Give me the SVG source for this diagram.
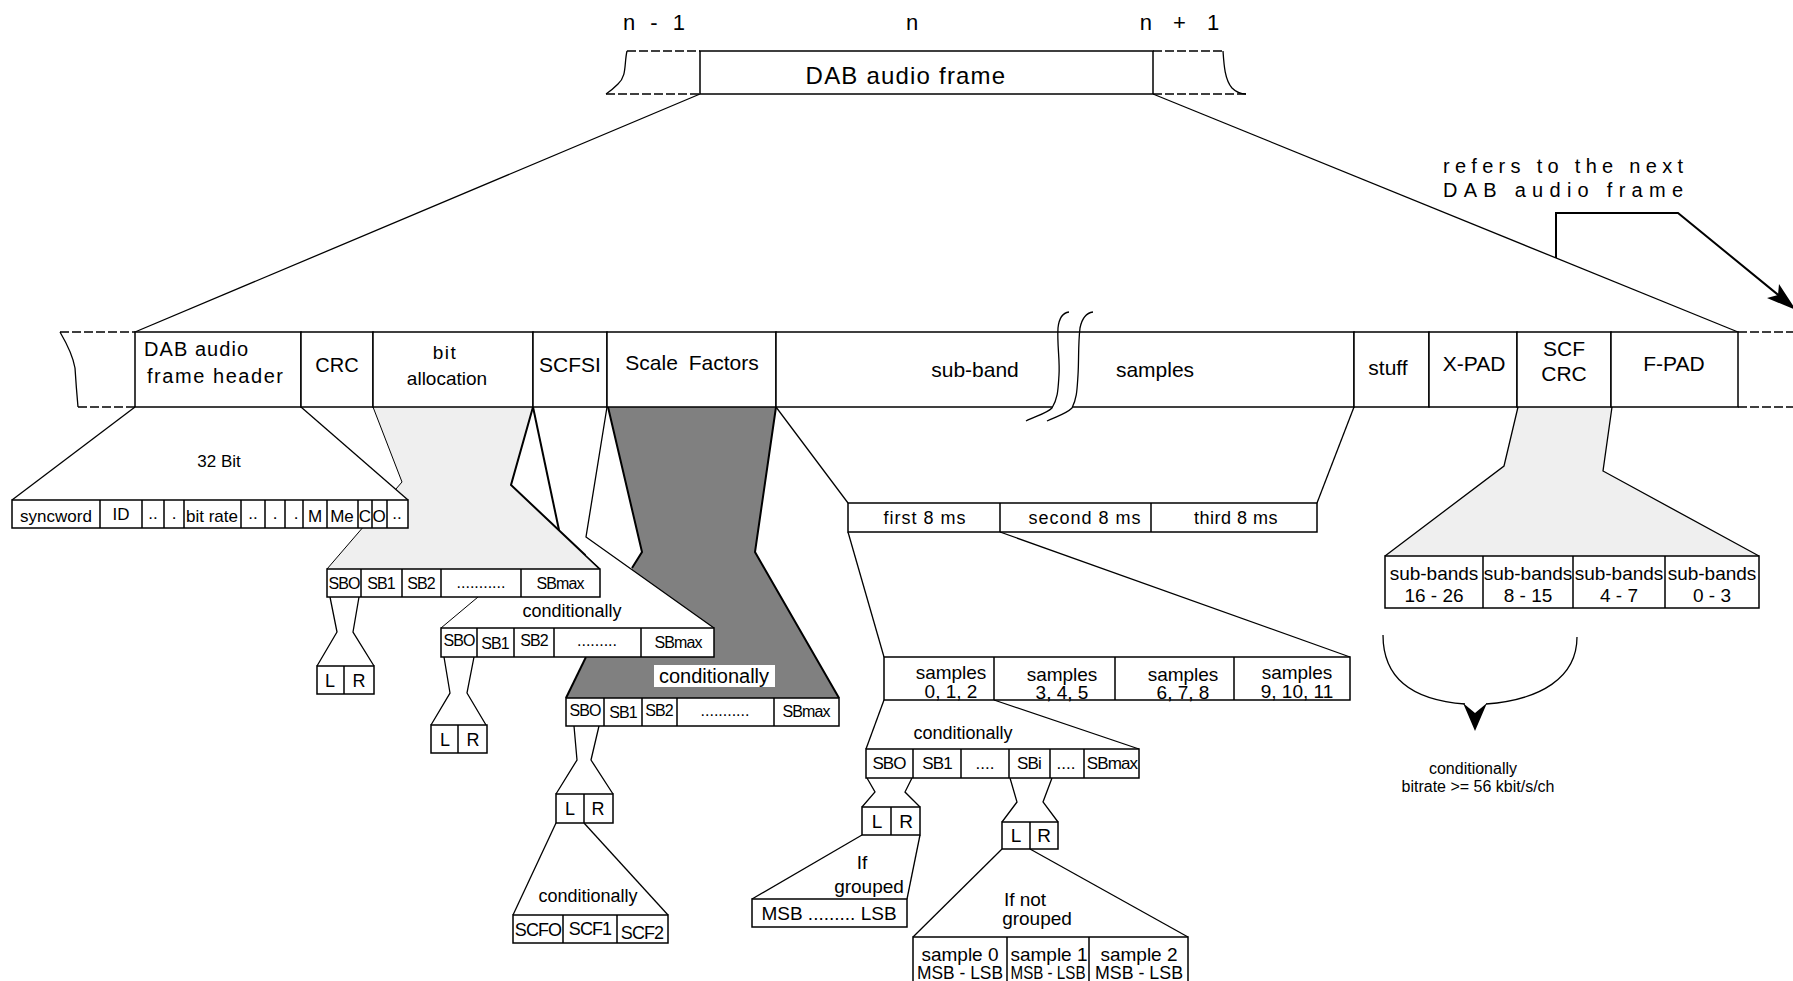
<svg xmlns="http://www.w3.org/2000/svg" width="1793" height="981" viewBox="0 0 1793 981">
<defs>
<style>
text{font-family:"Liberation Sans",Arial,Helvetica,sans-serif;fill:#000;text-anchor:middle}
.st{text-anchor:start}
.box{fill:#fff;stroke:#000;stroke-width:1.5}
.ln{fill:none;stroke:#000;stroke-width:1.3}
.thin{fill:none;stroke:#000;stroke-width:1}
.thk{fill:none;stroke:#000;stroke-width:2}
.dash{fill:none;stroke:#000;stroke-width:1.6;stroke-dasharray:9 3}
.lg{fill:#efefef;stroke:none}
.dg{fill:#808080;stroke:none}
.f24{font-size:24px}.f22{font-size:22px}.f21{font-size:21px}.f20{font-size:20px}.f19{font-size:19px}.f18{font-size:18px}.f17{font-size:17px}.f16{font-size:16px}
.nar{letter-spacing:-0.9px}
</style>
</defs>
<rect width="1793" height="981" fill="#fff"/>

<!-- index labels -->
<g id="labels-n">
<text class="f22" x="655" y="30" style="letter-spacing:2px;word-spacing:5px">n - 1</text>
<text class="f22" x="912" y="30">n</text>
<text class="f22" x="1181" y="30" style="letter-spacing:3px;word-spacing:9px">n + 1</text>
</g>

<g id="connectors">
<!-- top frame to main bar -->
<line class="ln" x1="700" y1="94" x2="135" y2="332"/>
<line class="ln" x1="1153" y1="94" x2="1738" y2="332"/>
<!-- bit allocation light region -->
<polygon class="lg" points="373,407 402,482 327,569 600,569 511,485 533,407"/>
<polyline class="thin" points="373,407 402,482 327,569"/>
<polyline class="thk" points="533,407 511,485 600,569"/>
<!-- header expansion -->
<polygon points="135,407 301,407 408,500 12,500" fill="#fff" stroke="none"/>
<line class="ln" x1="135" y1="407" x2="12" y2="500"/>
<line class="ln" x1="301" y1="407" x2="408" y2="500"/>
<!-- scale factor dark region -->
<polygon class="dg" points="608,407 642,552 632,568 566,698 839,698 755,552 776,407"/>
<polyline class="thk" points="608,407 642,552 632,568"/>
<polyline class="thk" points="776,407 755,552 839,698"/>
<line class="thk" x1="586" y1="657" x2="566" y2="698"/>
<!-- SCFSI expansion -->
<polygon points="586,537 714,628 441,628 478,597 600,597 600,568 586,555" fill="#fff" stroke="none"/>
<line class="thk" x1="533" y1="407" x2="559" y2="530"/>
<polyline class="ln" points="607,407 586,537 714,628"/>
<line class="thin" x1="478" y1="597" x2="441" y2="628"/>
<!-- sub-band samples expansion -->
<line class="ln" x1="776" y1="407" x2="848" y2="503"/>
<line class="ln" x1="1354" y1="407" x2="1317" y2="503"/>
<line class="ln" x1="848" y1="532" x2="884" y2="657"/>
<line class="ln" x1="1000" y1="532" x2="1350" y2="657"/>
<line class="ln" x1="884" y1="700" x2="866" y2="749"/>
<line class="ln" x1="994" y1="700" x2="1139" y2="749"/>
<polyline class="ln" points="867,778 875,792 862,807"/>
<polyline class="ln" points="912,778 905,792 920,807"/>
<polyline class="ln" points="1010,778 1017,802 1002,822"/>
<polyline class="ln" points="1052,778 1043,802 1058,822"/>
<line class="ln" x1="862" y1="835" x2="752" y2="899"/>
<line class="ln" x1="920" y1="835" x2="907" y2="899"/>
<line class="ln" x1="1002" y1="849" x2="913" y2="937"/>
<line class="ln" x1="1030" y1="849" x2="1188" y2="937"/>
<!-- SB table hourglasses -->
<polyline class="ln" points="330,597 337,632 317,666"/>
<polyline class="ln" points="359,597 353,632 374,666"/>
<polyline class="ln" points="444,657 450,693 431,725"/>
<polyline class="ln" points="474,657 467,693 486,725"/>
<polyline class="ln" points="574,726 577,760 556,794"/>
<polyline class="ln" points="599,726 591,760 613,794"/>
<line class="ln" x1="556" y1="823" x2="513" y2="915"/>
<line class="ln" x1="584" y1="823" x2="668" y2="915"/>
<!-- SCF CRC expansion -->
<polygon class="lg" points="1518,407 1504,466 1385,556 1759,556 1603,471 1612,407"/>
<polyline class="ln" points="1518,407 1504,466 1385,556"/>
<polyline class="ln" points="1612,407 1603,471 1759,556"/>
<!-- refers-to arrow -->
<polyline class="thk" points="1556,258 1556,213 1678,213 1782,298"/>
<polygon points="1796,310 1767,298 1778,295 1779,284" fill="#000"/>
<!-- brace arrow -->
<path class="ln" d="M1383,635 C1383,676 1410,700 1465,704"/>
<path class="ln" d="M1577,637 C1577,678 1540,700 1486,704"/>
<polygon points="1463,703 1475,713 1487,703 1475,731" fill="#000"/>
</g>

<!-- top frame -->
<g id="top-frame">
<rect class="box" x="700" y="51" width="453" height="43"/>
<path class="dash" d="M627,51 H700 M606,94 H700 M1153,51 H1223 M1153,94 H1246"/>
<path class="ln" d="M627,51 C624,64 627,76 618,84 C613,89 609,92 606,94"/>
<path class="ln" d="M1223,51 C1224,66 1225,80 1232,88 C1236,92 1240,94 1246,94"/>
<text class="f24" x="906" y="84" style="letter-spacing:1.2px">DAB audio frame</text>
</g>

<!-- main bar -->
<g id="main-bar">
<path class="dash" d="M60,332 H135 M78,407 H135 M1738,332 H1793 M1738,407 H1793"/>
<path class="ln" d="M60,332 C67,344 73,356 75,368 C76,384 77,396 78,407"/>
<g id="cell-header"><rect class="box" x="135" y="332" width="166" height="75"/>
<text class="f20 st" x="144" y="356" textLength="104" lengthAdjust="spacing">DAB audio</text>
<text class="f20 st" x="147" y="383" textLength="136" lengthAdjust="spacing">frame header</text></g>
<g id="cell-crc"><rect class="box" x="301" y="332" width="72" height="75"/><text class="f20" x="337" y="372">CRC</text></g>
<g id="cell-bitalloc"><rect class="box" x="373" y="332" width="160" height="75"/>
<text class="f19" x="445" y="359" style="letter-spacing:1.5px">bit</text>
<text class="f19" x="447" y="385">allocation</text></g>
<g id="cell-scfsi"><rect class="box" x="533" y="332" width="74" height="75"/><text class="f21" x="570" y="372">SCFSI</text></g>
<g id="cell-scalefactors"><rect class="box" x="607" y="332" width="169" height="75"/><text class="f21" x="692" y="370" style="word-spacing:5px">Scale Factors</text></g>
<g id="cell-subband"><rect class="box" x="776" y="332" width="578" height="75"/>
<text class="f21" x="975" y="377">sub-band</text>
<text class="f21" x="1155" y="377">samples</text></g>
<g id="cell-stuff"><rect class="box" x="1354" y="332" width="75" height="75"/><text class="f21" x="1388" y="375">stuff</text></g>
<g id="cell-xpad"><rect class="box" x="1429" y="332" width="88" height="75"/><text class="f21" x="1474" y="371">X-PAD</text></g>
<g id="cell-scfcrc"><rect class="box" x="1517" y="332" width="94" height="75"/>
<text class="f21" x="1564" y="356">SCF</text><text class="f21" x="1564" y="381">CRC</text></g>
<g id="cell-fpad"><rect class="box" x="1611" y="332" width="127" height="75"/><text class="f21" x="1674" y="371">F-PAD</text></g>
<!-- break mark -->
<path d="M1069,312 C1062,313 1059,318 1058,328 C1057,345 1060,360 1059,375 C1058,390 1058,398 1052,408 C1046,414 1035,416 1026,421 L1047,421 C1057,416 1066,414 1072,408 C1077,398 1077,390 1078,375 C1079,360 1078,345 1080,328 C1082,318 1086,313 1093,312 Z" fill="#fff" stroke="none"/>
<line class="box" x1="1058" y1="332" x2="1080" y2="332"/>
<path class="ln" d="M1069,312 C1062,313 1059,318 1058,328 C1057,345 1060,360 1059,375 C1058,390 1058,398 1052,408 C1046,414 1035,416 1026,421"/>
<path class="ln" d="M1093,312 C1086,313 1082,318 1080,328 C1078,345 1079,360 1078,375 C1077,390 1077,398 1072,408 C1066,414 1057,416 1047,421"/>
</g>

<g id="note-next-frame">
<text class="f20 st" x="1443" y="173" textLength="240" lengthAdjust="spacing">refers to the next</text>
<text class="f20 st" x="1443" y="197" textLength="240" lengthAdjust="spacing">DAB audio frame</text>
</g>

<!-- header detail -->
<g id="header-fields">
<text class="f17" x="219" y="467">32 Bit</text>
<rect class="box" x="12" y="500" width="396" height="28"/>
<path class="box" d="M100,500V528 M142,500V528 M164,500V528 M184,500V528 M241,500V528 M265,500V528 M285,500V528 M303,500V528 M327,500V528 M358,500V528 M372,500V528 M387,500V528"/>
<text class="f17" x="56" y="522">syncword</text>
<text class="f17" x="121" y="520">ID</text>
<text class="f17" x="153" y="519">..</text>
<text class="f17" x="174" y="519">.</text>
<text class="f17 st" x="186" y="522">bit rate</text>
<text class="f17" x="253" y="519">..</text>
<text class="f17" x="275" y="519">.</text>
<text class="f17" x="296" y="519">.</text>
<text class="f17" x="315" y="522">M</text>
<text class="f17" x="342" y="522">Me</text>
<text class="f17" x="365" y="522">C</text>
<text class="f17" x="379" y="522">O</text>
<text class="f17" x="397" y="519">..</text>
</g>

<!-- bit allocation table -->
<g id="sb-table-1">
<rect class="box" x="327" y="569" width="273" height="28"/>
<path class="box" d="M361,569V597 M402,569V597 M441,569V597 M521,569V597"/>
<text class="f16 nar" x="344" y="589">SBO</text>
<text class="f16 nar" x="381" y="589">SB1</text>
<text class="f16 nar" x="421" y="589">SB2</text>
<text class="f16" x="481" y="588">...........</text>
<text class="f16 nar" x="560" y="589">SBmax</text>
</g>
<g id="lr-1">
<rect class="box" x="317" y="666" width="57" height="28"/>
<line class="box" x1="344" y1="666" x2="344" y2="694"/>
<text class="f18" x="330" y="687">L</text><text class="f18" x="359" y="687">R</text>
</g>

<!-- SCFSI table -->
<text class="f18" x="572" y="617">conditionally</text>
<g id="sb-table-2">
<rect class="box" x="441" y="628" width="273" height="29"/>
<path class="box" d="M477,628V657 M514,628V657 M554,628V657 M641,628V657"/>
<text class="f16 nar" x="459" y="646">SBO</text>
<text class="f16 nar" x="495" y="649">SB1</text>
<text class="f16 nar" x="534" y="646">SB2</text>
<text class="f16" x="597" y="646">.........</text>
<text class="f16 nar" x="678" y="648">SBmax</text>
</g>
<g id="lr-2">
<rect class="box" x="431" y="725" width="56" height="28"/>
<line class="box" x1="458" y1="725" x2="458" y2="753"/>
<text class="f18" x="445" y="746">L</text><text class="f18" x="473" y="746">R</text>
</g>

<!-- scale factor table -->
<g id="label-dark">
<rect x="654" y="665" width="121" height="22" fill="#fff"/>
<text class="f20" x="714" y="683">conditionally</text>
</g>
<g id="sb-table-3">
<rect class="box" x="566" y="698" width="273" height="28"/>
<path class="box" d="M604,698V726 M642,698V726 M677,698V726 M774,698V726"/>
<text class="f16 nar" x="585" y="716">SBO</text>
<text class="f16 nar" x="623" y="718">SB1</text>
<text class="f16 nar" x="659" y="716">SB2</text>
<text class="f16" x="725" y="716">...........</text>
<text class="f16 nar" x="806" y="717">SBmax</text>
</g>
<g id="lr-3">
<rect class="box" x="556" y="794" width="57" height="29"/>
<line class="box" x1="584" y1="794" x2="584" y2="823"/>
<text class="f18" x="570" y="815">L</text><text class="f18" x="598" y="815">R</text>
</g>
<text class="f18" x="588" y="902">conditionally</text>
<g id="scf-table">
<rect class="box" x="513" y="915" width="155" height="28"/>
<path class="box" d="M563,915V943 M617,915V943"/>
<text class="f18 nar" x="538" y="936">SCFO</text>
<text class="f18 nar" x="590" y="935">SCF1</text>
<text class="f18 nar" x="642" y="939">SCF2</text>
</g>

<!-- samples detail -->
<g id="ms-table">
<rect class="box" x="848" y="503" width="469" height="29"/>
<path class="box" d="M1000,503V532 M1151,503V532"/>
<text class="f18" x="925" y="524" style="letter-spacing:1px">first 8 ms</text>
<text class="f18" x="1085" y="524" style="letter-spacing:1px">second 8 ms</text>
<text class="f18" x="1236" y="524" style="letter-spacing:0.5px">third 8 ms</text>
</g>
<g id="samples-table">
<rect class="box" x="884" y="657" width="466" height="43"/>
<path class="box" d="M994,657V700 M1115,657V700 M1234,657V700"/>
<text class="f19" x="951" y="679">samples</text><text class="f19" x="951" y="698">0, 1, 2</text>
<text class="f19" x="1062" y="681">samples</text><text class="f19" x="1062" y="699">3, 4, 5</text>
<text class="f19" x="1183" y="681">samples</text><text class="f19" x="1183" y="699">6, 7, 8</text>
<text class="f19" x="1297" y="679">samples</text><text class="f19" x="1297" y="698">9, 10, 11</text>
</g>
<text class="f18" x="963" y="739">conditionally</text>
<g id="sb-table-4">
<rect class="box" x="866" y="749" width="273" height="29"/>
<path class="box" d="M913,749V778 M961,749V778 M1009,749V778 M1050,749V778 M1084,749V778"/>
<text class="f17 nar" x="889" y="769">SBO</text>
<text class="f17 nar" x="937" y="769">SB1</text>
<text class="f17" x="985" y="769">....</text>
<text class="f17 nar" x="1029" y="769">SBi</text>
<text class="f17" x="1066" y="769">....</text>
<text class="f17 nar" x="1112" y="769">SBmax</text>
</g>
<g id="lr-4">
<rect class="box" x="862" y="807" width="58" height="28"/>
<line class="box" x1="891" y1="807" x2="891" y2="835"/>
<text class="f19" x="877" y="828">L</text><text class="f19" x="906" y="828">R</text>
</g>
<g id="lr-5">
<rect class="box" x="1002" y="822" width="56" height="27"/>
<line class="box" x1="1030" y1="822" x2="1030" y2="849"/>
<text class="f19" x="1016" y="842">L</text><text class="f19" x="1044" y="842">R</text>
</g>
<text class="f19" x="862" y="869">If</text>
<text class="f19" x="869" y="893">grouped</text>
<g id="msb-table">
<rect class="box" x="752" y="899" width="155" height="28"/>
<text class="f19" x="829" y="920">MSB .........  LSB</text>
</g>
<text class="f19" x="1025" y="906">If not</text>
<text class="f19" x="1037" y="925">grouped</text>
<g id="sample-table">
<rect class="box" x="913" y="937" width="275" height="50"/>
<path class="box" d="M1007,937V987 M1089,937V987"/>
<text class="f19" x="960" y="961">sample 0</text>
<text class="f18" x="960" y="979" textLength="86" lengthAdjust="spacingAndGlyphs">MSB - LSB</text>
<text class="f19" x="1049" y="961">sample 1</text>
<text class="f18" x="1048" y="979" textLength="75" lengthAdjust="spacingAndGlyphs">MSB - LSB</text>
<text class="f19" x="1139" y="961">sample 2</text>
<text class="f18" x="1139" y="979" textLength="88" lengthAdjust="spacingAndGlyphs">MSB - LSB</text>
</g>

<!-- SCF CRC detail -->
<g id="subbands-table">
<rect class="box" x="1385" y="556" width="374" height="52"/>
<path class="box" d="M1483,556V608 M1573,556V608 M1665,556V608"/>
<text class="f19" x="1434" y="580">sub-bands</text><text class="f19" x="1434" y="602">16 - 26</text>
<text class="f19" x="1528" y="580">sub-bands</text><text class="f19" x="1528" y="602">8 - 15</text>
<text class="f19" x="1619" y="580">sub-bands</text><text class="f19" x="1619" y="602">4 - 7</text>
<text class="f19" x="1712" y="580">sub-bands</text><text class="f19" x="1712" y="602">0 - 3</text>
</g>
<text class="f16" x="1473" y="774">conditionally</text>
<text class="f16" x="1478" y="792">bitrate &gt;= 56 kbit/s/ch</text>
</svg>
